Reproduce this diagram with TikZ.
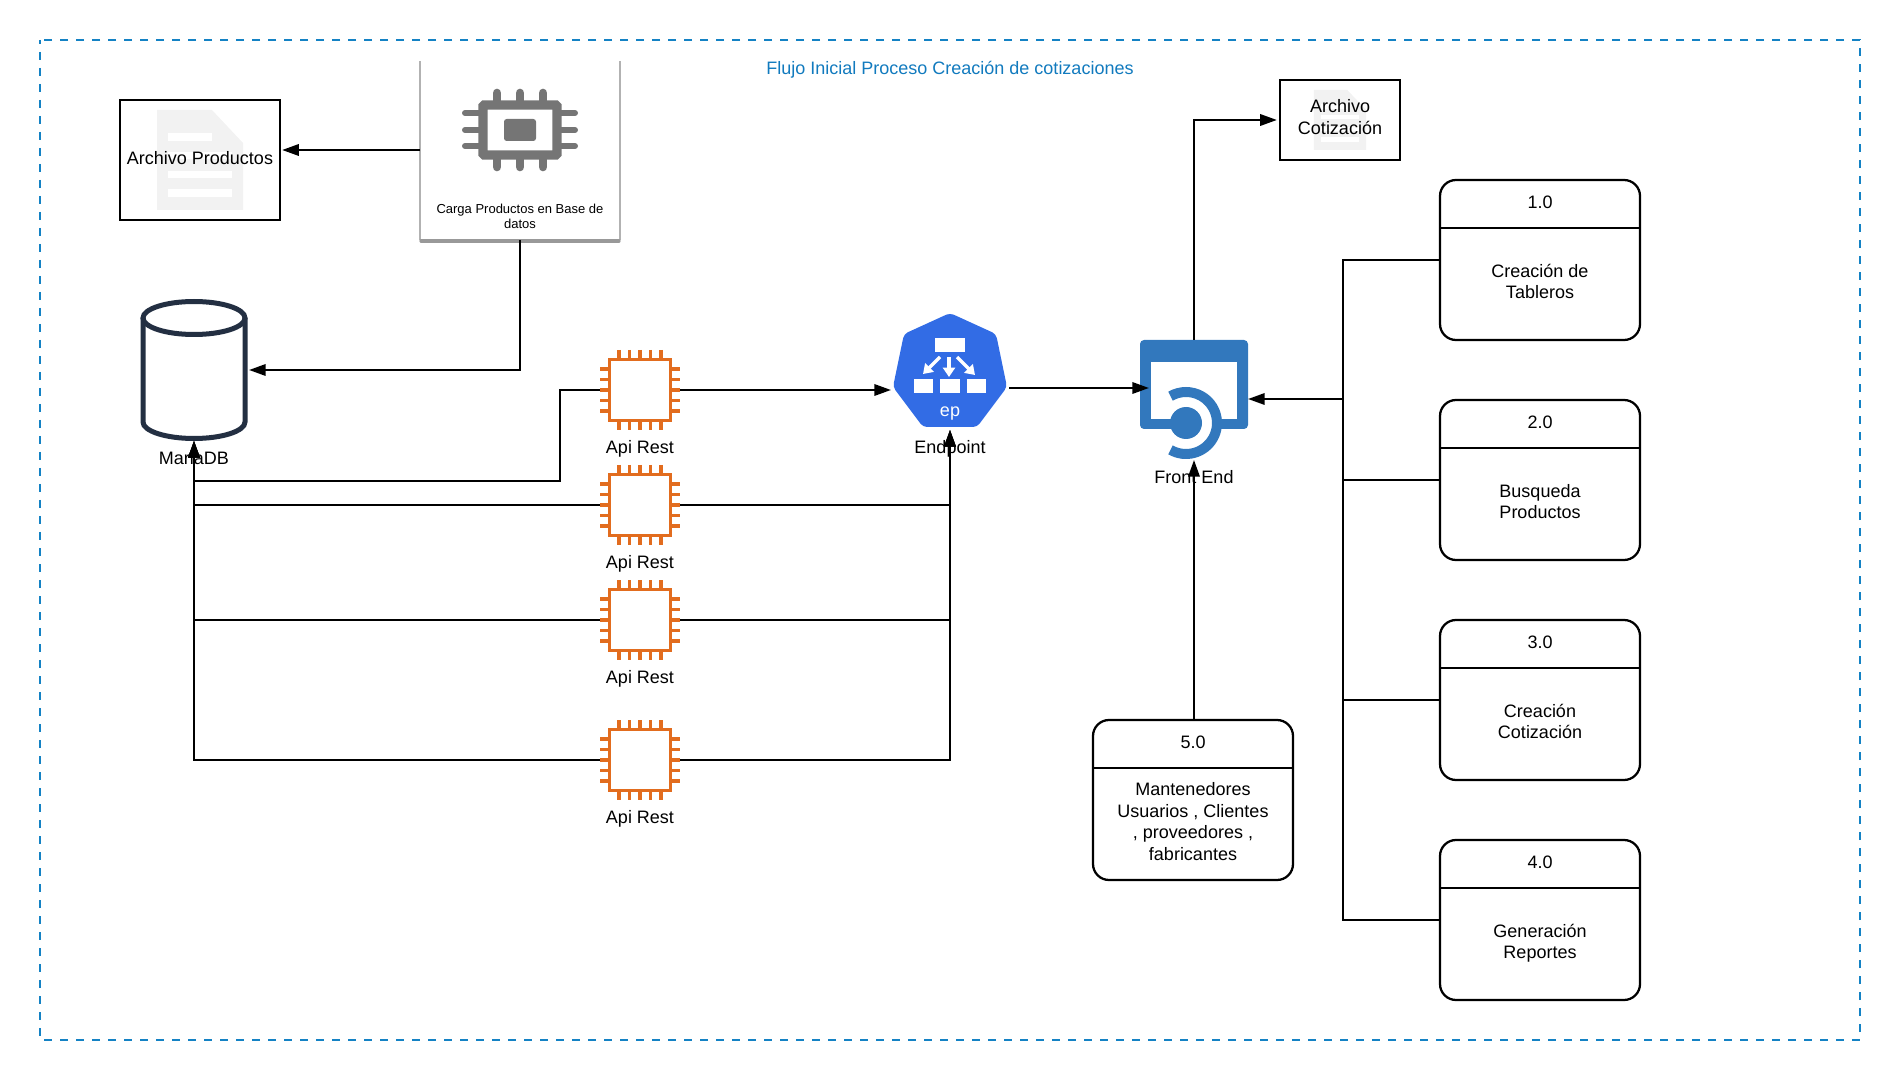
\documentclass[tikz,border=0pt]{standalone}
\usepackage{fontspec}
\setmainfont{Liberation Sans}
\usetikzlibrary{arrows.meta}
\definecolor{marco}{RGB}{20,130,196}
\definecolor{titulo}{RGB}{17,122,190}
\definecolor{naranja}{RGB}{226,108,30}
\definecolor{azulep}{RGB}{50,108,229}
\definecolor{azulfe}{RGB}{50,120,189}
\definecolor{grischip}{RGB}{117,117,117}
\definecolor{grisdoc}{RGB}{242,242,242}
\definecolor{tinta}{RGB}{35,47,66}
\tikzset{every picture/.style={line width=1.7pt}}
\tikzset{
  etiqueta/.style={inner sep=0pt,align=center,font=\fontsize{13.5}{16.1}\selectfont,yshift=-0.4pt,
    execute at begin node=\strut,execute at end node=\strut},
  flecha/.style={-{Triangle[length=12.5pt,width=8.5pt]}},
  caja/.style={draw,rounded corners=12pt,minimum width=150pt,minimum height=120pt},
  archivo/.style={draw,inner sep=0pt},
  hueco/.style={inner sep=0pt,outer sep=0pt},
  flechita/.style={white,line width=2.4pt,-{Triangle[length=7pt,width=9pt]}},
  pics/docicon/.style={code={
    \fill [grisdoc] (-43,-50) -- (12,-50) -- (43,-17) -- (43,50) -- (-43,50) -- cycle ;
    \fill [white] (-32,-27) rectangle (12,-19);
    \fill [white] (-32,-8) rectangle (32,-1);
    \fill [white] (-32,11) rectangle (32,18);
    \fill [white] (-32,29) rectangle (32,37);
  }}
}
\begin{document}
\begin{tikzpicture}[x=0.75pt,y=0.75pt,yscale=-1,xscale=1]
\useasboundingbox (0,0) rectangle (1900,1080);

%frame
\draw [marco,line width=2pt,dash pattern=on 6pt off 6pt,dash phase=3pt] (40,40) rectangle (1860,1040);
\node (title) [etiqueta,text=titulo] at (950,70) {Flujo Inicial Proceso Creación de cotizaciones};

%file icons
\pic [yscale=-1] at (200,160) {docicon};
\pic [xscale=0.605,yscale=-0.6] at (1340,120) {docicon};
\node (archprod) [archivo,minimum width=120pt,minimum height=90pt] at (200,160) {};
\node (archprodtxt) [etiqueta] at (200,159.7) {Archivo Productos};
\node (archcot) [archivo,minimum width=90pt,minimum height=60pt] at (1340,120) {};
\node (archcottxt) [etiqueta] at (1340,119.5) {Archivo\\Cotización};

%load card
\draw [black!30,line width=0.8pt] (420,61) -- (420,240);
\draw [black!30,line width=0.8pt] (620,61) -- (620,240);
\draw [black!40,line width=2.4pt,line cap=round] (421,241) -- (619,241);
\node (card) [hueco,minimum width=150pt,minimum height=135pt] at (520,150) {};
\node (cardtxt) [hueco,align=center,font=\fontsize{9.75}{11.7}\selectfont] at (520,216.5) {Carga Productos en Base de\\datos};
\foreach \y in {113,130,146} {
  \draw [grischip,line width=4.5pt,line cap=round] (465,\y) -- (480,\y);
  \draw [grischip,line width=4.5pt,line cap=round] (560,\y) -- (575,\y);
}
\foreach \x in {497,520,543} {
  \draw [grischip,line width=6.5pt,line cap=round] (\x,93) -- (\x,103);
  \draw [grischip,line width=6.5pt,line cap=round] (\x,157) -- (\x,167);
}
\draw [grischip,line width=7pt,rounded corners=1pt] (483,105) rectangle (557,155);
\fill [grischip,rounded corners=2pt] (504,119) rectangle (536,141);

%database
\node (mariadb) [hueco,minimum width=82.5pt,minimum height=106.5pt] at (194,370) {};
\draw [tinta,line width=3.75pt,fill=white] (143,318) -- (143,422) arc [start angle=180,end angle=0,x radius=51,y radius=16.5] -- (245,318) ;
\draw [tinta,line width=3.75pt] (194,318) ellipse [x radius=51,y radius=16.5];
\node (mariatxt) [etiqueta] at (194,459.5) {MariaDB};

%api rest chips
\foreach \n/\y in {1/390,2/505,3/620,4/760} {
  \node (api\n) [hueco,minimum width=60pt,minimum height=60pt] at (640,\y) {};
  \draw [naranja,line width=2.5pt] (609.5,\y-30.5) rectangle (670.5,\y+30.5);
  \foreach \d in {-21,-10.5,0,10.5,21} {
    \draw [naranja,line width=2.5pt] (600,\y+\d) -- (609,\y+\d);
    \draw [naranja,line width=2.5pt] (671,\y+\d) -- (680,\y+\d);
    \draw [naranja,line width=2.5pt] (640+\d,\y-40) -- (640+\d,\y-31);
    \draw [naranja,line width=2.5pt] (640+\d,\y+31) -- (640+\d,\y+40);
  }
  \node (apitxt\n) [etiqueta] at (640,\y+58.5) {Api Rest};
}

%endpoint
\node (endpoint) [hueco,minimum width=88.5pt,minimum height=87.75pt] at (950,371.5) {};
\fill [azulep,rounded corners=3pt] (950,313) -- (996,334) -- (1007,387) -- (977,427) -- (923,427) -- (893,387) -- (904,334) -- cycle ;
\fill [white] (935,338) rectangle (965,352);
\fill [white] (914,379) rectangle (933,393);
\fill [white] (940,379) rectangle (960,393);
\fill [white] (967,379) rectangle (986,393);
\draw [flechita] (940,357) -- (923,374);
\draw [flechita] (949,357) -- (949,377);
\draw [flechita] (957,357) -- (975,375);
\node (eptxt) [etiqueta,text=white] at (950,412) {ep};
\node (endtxt) [etiqueta] at (950,448.7) {Endpoint};

%front end
\node (frontend) [hueco,minimum width=81pt,minimum height=90pt] at (1194,400) {};
\fill [azulfe,rounded corners=3pt] (1140,340) rectangle (1248,429);
\fill [white] (1151,362) rectangle (1237,419);
\fill [white] (1186,423) -- ++(-120:27) arc [start angle=-120,end angle=120,radius=27] -- cycle;
\draw [azulfe,line width=7.5pt] (1186,423) ++(120:31) arc [start angle=120,end angle=-120,radius=31];
\fill [azulfe] (1186,423) circle [radius=16];
\node (fronttxt) [etiqueta] at (1194,479) {Front End};

%numbered boxes
\foreach \n/\x/\y/\num/\txt in {1/1540/180/1.0/{Creación de\\Tableros},2/1540/400/2.0/{Busqueda\\Productos},3/1540/620/3.0/{Creación\\Cotización},4/1540/840/4.0/{Generación\\Reportes},5/1193/720/5.0/{Mantenedores\\Usuarios , Clientes\\, proveedores ,\\fabricantes}} {
  \node (box\n) [caja] at (\x,\y+80) {};
  \draw (\x-100,\y+48) -- (\x+100,\y+48);
  \node (num\n) [etiqueta] at (\x,\y+23.7) {\num};
  \node (txt\n) [etiqueta] at (\x,\y+104) {\txt};
}

%connectors
\coordinate (cardout) at (420,150);
\coordinate (elbow) at (560,481);
\coordinate (trunk) at (1343,399);
\coordinate (flowmid) at (1009,388);
\draw [flecha,shorten >=0.75pt] (cardout) -- (cardout -| archprod.east);
\draw [flecha] (card.south) |- (mariadb.east);
\draw [flecha] (api1.west) -| (elbow) -| (mariadb.south);
\draw [flecha] (api2.west) -| (mariadb.south);
\draw [flecha] (api3.west) -| (mariadb.south);
\draw [flecha] (api4.west) -| (mariadb.south);
\draw [flecha] (api1.east) -- (api1.east -| endpoint.west);
\draw [flecha] (api2.east) -| (endpoint.south);
\draw [flecha] (api3.east) -| (endpoint.south);
\draw [flecha] (api4.east) -| (endpoint.south);
\draw [flecha,shorten >=-6.75pt] (flowmid) -- (flowmid -| frontend.west);
\draw [flecha,shorten >=1.5pt] (frontend.north) |- (archcot.west);
\draw [flecha] (box5.north -| frontend.south) -- (frontend.south);
\draw (box1.west) -| (trunk);
\draw (box2.west) -| (trunk);
\draw (box3.west) -| (trunk);
\draw (box4.west) -| (trunk);
\draw [flecha] (trunk) -- (trunk -| frontend.east);
\end{tikzpicture}
\end{document}
